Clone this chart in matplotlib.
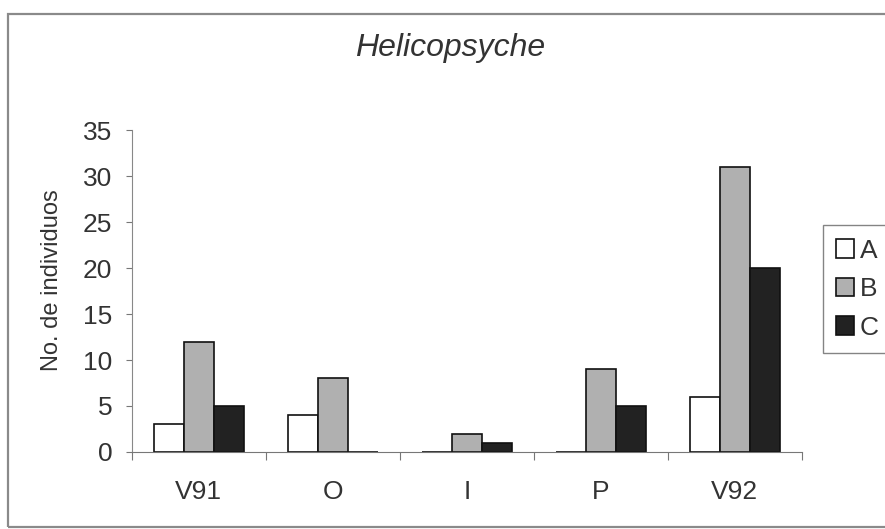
import numpy as np
import matplotlib.pyplot as plt
from matplotlib.patches import Rectangle

plt.rcParams['font.family'] = ['Liberation Sans', 'DejaVu Sans']

sitios = ["V91", "O", "I", "P", "V92"]
serie_a = [3, 4, 0, 0, 6]
serie_b = [12, 8, 2, 9, 31]
serie_c = [5, 0, 1, 5, 20]
etiquetas = ["A", "B", "C"]
yticks = [0, 5, 10, 15, 20, 25, 30, 35]

fig = plt.figure(figsize=(8.85, 5.29), dpi=100)
ax = fig.add_axes([0.149, 0.1456, 0.757, 0.6084])

# marco exterior del grafico
fig.patches.append(Rectangle((8 / 885, 1 - 527 / 529), 1.2, (527 - 14) / 529,
                             transform=fig.transFigure, fill=False,
                             edgecolor="#8a8a8a", linewidth=1.6))

x = np.arange(len(sitios))
w = 0.224
colores = ["white", "#b0b0b0", "#222222"]
for i, (vals, col, lab) in enumerate(zip([serie_a, serie_b, serie_c], colores, etiquetas)):
    ax.bar(x + (i - 1) * w, vals, width=w, color=col, edgecolor="#111111",
           linewidth=1.2, label=lab)

ax.set_xlim(-0.5, len(sitios) - 0.5)
ax.set_ylim(0, 35)
ax.set_yticks(yticks)
ax.tick_params(axis="y", labelsize=19, length=4, color="#777777", pad=10,
               labelcolor="#333333")

# marcas del eje x entre categorias
ax.set_xticks(np.arange(len(sitios) + 1) - 0.5, minor=False)
ax.set_xticklabels([])
ax.set_xticks(x, minor=True)
ax.set_xticklabels(sitios, minor=True, fontsize=19, color="#333333")
ax.tick_params(axis="x", which="major", length=6, color="#777777")
ax.tick_params(axis="x", which="minor", length=0, pad=20)

for s in ["top", "right"]:
    ax.spines[s].set_visible(False)
ax.spines["left"].set_color("#888888")
ax.spines["bottom"].set_color("#777777")

fig.text(52 / 885, 1 - 280 / 529, "No. de individuos", fontsize=17,
         rotation=90, ha="center", va="center", color="#333333")
fig.text(0.5085, 0.910, "Helicopsyche", fontsize=23, style="italic",
         ha="center", va="center", color="#333333")

leg = ax.legend(loc="center left", bbox_to_anchor=(1.031, 0.506), fontsize=19,
                frameon=True, fancybox=False, edgecolor="#666666",
                handlelength=0.7, handleheight=0.7, handletextpad=0.2,
                labelspacing=0.55, borderpad=0.5, borderaxespad=0)
leg.get_frame().set_linewidth(1.0)
for t in leg.get_texts():
    t.set_color("#333333")

fig.savefig("out.png", dpi=100)
